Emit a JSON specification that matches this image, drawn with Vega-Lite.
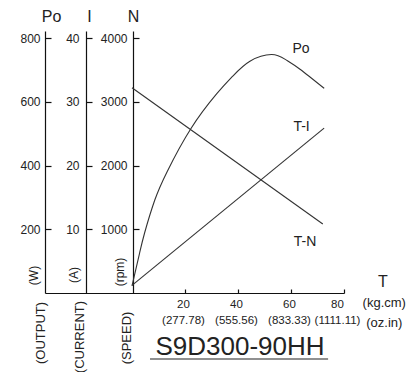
{
  "$schema": "https://vega.github.io/schema/vega-lite/v6.json",
  "width": 299,
  "height": 262,
  "autosize": {"type": "none"},
  "padding": {"left": 45, "top": 31, "right": 68, "bottom": 79},
  "background": "white",
  "config": {
    "view": {"stroke": null},
    "font": "Liberation Sans",
    "axis": {"domainColor": "#111", "tickColor": "#111", "labelColor": "#222", "titleColor": "#222", "grid": false, "labelFont": "Liberation Sans", "titleFont": "Liberation Sans", "labelFontSize": 12, "domainWidth": 1.2, "tickWidth": 1.2},
    "text": {"font": "Liberation Sans", "color": "#222"}
  },
  "datasets": {
    "curves": [
      {"series": "Po", "T": 0, "v": 22},
      {"series": "Po", "T": 2.8, "v": 123},
      {"series": "Po", "T": 4.8, "v": 190},
      {"series": "Po", "T": 8.6, "v": 292},
      {"series": "Po", "T": 13.3, "v": 382},
      {"series": "Po", "T": 22.2, "v": 516},
      {"series": "Po", "T": 32, "v": 626},
      {"series": "Po", "T": 38, "v": 681},
      {"series": "Po", "T": 44.5, "v": 728},
      {"series": "Po", "T": 52.7, "v": 749},
      {"series": "Po", "T": 58, "v": 733},
      {"series": "Po", "T": 63.4, "v": 703},
      {"series": "Po", "T": 72.5, "v": 643},
      {"series": "T-I", "T": 0, "v": 1.2},
      {"series": "T-I", "T": 72.5, "v": 25.9},
      {"series": "T-N", "T": 0, "v": 3223},
      {"series": "T-N", "T": 72, "v": 1083}
    ],
    "units": [
      {"text": "(W)", "T": -37, "N": 275},
      {"text": "(A)", "T": -21.9, "N": 283},
      {"text": "(rpm)", "T": -4.5, "N": 330}
    ],
    "names": [
      {"text": "(OUTPUT)", "T": -34.3, "N": -628},
      {"text": "(CURRENT)", "T": -19.6, "N": -691},
      {"text": "(SPEED)", "T": -1.9, "N": -706}
    ],
    "curveLabels": [
      {"text": "Po", "T": 63.8, "N": 3826},
      {"text": "T-I", "T": 64.0, "N": 2611},
      {"text": "T-N", "T": 65.3, "N": 805}
    ],
    "unitT": [
      {"text": "(kg.cm)", "T": 95.2, "N": -157},
      {"text": "(oz.in)", "T": 95.2, "N": -471}
    ],
    "bigT": [
      {"text": "T", "T": 94.7, "N": 173}
    ],
    "model": [
      {"text": "S9D300-90HH", "T": 40.75, "N": -848}
    ],
    "underline": [
      {"T": 6.8, "T2": 74, "N": -1036}
    ]
  },
  "encoding": {
    "x": {
      "field": "T",
      "type": "quantitative",
      "scale": {"domain": [-32.83, 80], "nice": false, "zero": false},
      "axis": {
        "orient": "bottom",
        "values": [20, 40, 60, 80],
        "title": null,
        "tickSize": -4,
        "labelPadding": 9,
        "labelLineHeight": 16,
        "labelFlush": false,
        "labelAlign": "center",
        "labelBaseline": "top",
        "labelFontSize": 11.5,
        "labelOffset": {"condition": {"test": "datum.value == 80", "value": -7}, "value": -2},
        "labelExpr": "datum.value == 20 ? ['20', '(277.78)'] : datum.value == 40 ? ['40', '(555.56)'] : datum.value == 60 ? ['60', '(833.33)'] : ['80', '(1111.11)']"
      }
    }
  },
  "layer": [
    {
      "data": {"name": "curves"},
      "transform": [{"filter": "datum.series == 'Po'"}],
      "mark": {"type": "line", "color": "#333", "strokeWidth": 1.1, "interpolate": "natural"},
      "encoding": {
        "y": {
          "field": "v", "type": "quantitative",
          "scale": {"domain": [0, 823], "nice": false},
          "axis": {"orient": "left", "offset": 0, "values": [200, 400, 600, 800], "tickSize": -6, "labelPadding": 11, "labelFlush": false, "title": "Po", "titleAngle": 0, "titleX": 6, "titleY": -15, "titleAlign": "center", "titleBaseline": "middle", "titleFontSize": 16, "titleFontWeight": "normal"}
        }
      }
    },
    {
      "data": {"name": "curves"},
      "transform": [{"filter": "datum.series == 'T-I'"}],
      "mark": {"type": "line", "color": "#333", "strokeWidth": 1.1},
      "encoding": {
        "y": {
          "field": "v", "type": "quantitative",
          "scale": {"domain": [0, 41.15], "nice": false},
          "axis": {"orient": "left", "offset": -41, "values": [10, 20, 30, 40], "tickSize": -6, "labelPadding": 13, "labelFlush": false, "title": "I", "titleAngle": 0, "titleX": 3, "titleY": -15, "titleAlign": "center", "titleBaseline": "middle", "titleFontSize": 16, "titleFontWeight": "normal"}
        }
      }
    },
    {
      "data": {"name": "curves"},
      "transform": [{"filter": "datum.series == 'T-N'"}],
      "mark": {"type": "line", "color": "#333", "strokeWidth": 1.1},
      "encoding": {
        "y": {
          "field": "v", "type": "quantitative",
          "scale": {"domain": [0, 4113], "nice": false},
          "axis": {"orient": "left", "offset": -88, "values": [1000, 2000, 3000, 4000], "format": "d", "tickSize": -6, "labelPadding": 12, "labelFlush": false, "title": "N", "titleAngle": 0, "titleX": 0, "titleY": -15, "titleAlign": "center", "titleBaseline": "middle", "titleFontSize": 16, "titleFontWeight": "normal"}
        }
      }
    },
    {
      "data": {"name": "units"},
      "mark": {"type": "text", "angle": 270, "fontSize": 12, "align": "center", "baseline": "middle"},
      "encoding": {
        "y": {"field": "N", "type": "quantitative", "scale": {"domain": [0, 4113], "nice": false, "zero": false}, "axis": null},
        "text": {"field": "text"}
      }
    },
    {
      "data": {"name": "names"},
      "mark": {"type": "text", "angle": 270, "fontSize": 13, "align": "center", "baseline": "middle"},
      "encoding": {
        "y": {"field": "N", "type": "quantitative", "scale": {"domain": [0, 4113], "nice": false, "zero": false}, "axis": null},
        "text": {"field": "text"}
      }
    },
    {
      "data": {"name": "curveLabels"},
      "mark": {"type": "text", "fontSize": 14, "align": "center", "baseline": "middle"},
      "encoding": {
        "y": {"field": "N", "type": "quantitative", "scale": {"domain": [0, 4113], "nice": false, "zero": false}, "axis": null},
        "text": {"field": "text"}
      }
    },
    {
      "data": {"name": "unitT"},
      "mark": {"type": "text", "fontSize": 13, "align": "center", "baseline": "middle"},
      "encoding": {
        "y": {"field": "N", "type": "quantitative", "scale": {"domain": [0, 4113], "nice": false, "zero": false}, "axis": null},
        "text": {"field": "text"}
      }
    },
    {
      "data": {"name": "bigT"},
      "mark": {"type": "text", "fontSize": 16, "align": "center", "baseline": "middle"},
      "encoding": {
        "y": {"field": "N", "type": "quantitative", "scale": {"domain": [0, 4113], "nice": false, "zero": false}, "axis": null},
        "text": {"field": "text"}
      }
    },
    {
      "data": {"name": "model"},
      "mark": {"type": "text", "fontSize": 26, "align": "center", "baseline": "middle"},
      "encoding": {
        "y": {"field": "N", "type": "quantitative", "scale": {"domain": [0, 4113], "nice": false, "zero": false}, "axis": null},
        "text": {"field": "text"}
      }
    },
    {
      "data": {"name": "underline"},
      "mark": {"type": "rule", "color": "#222", "strokeWidth": 1.2},
      "encoding": {
        "x2": {"field": "T2"},
        "y": {"field": "N", "type": "quantitative", "scale": {"domain": [0, 4113], "nice": false, "zero": false}, "axis": null}
      }
    }
  ],
  "resolve": {"scale": {"y": "independent"}}
}
